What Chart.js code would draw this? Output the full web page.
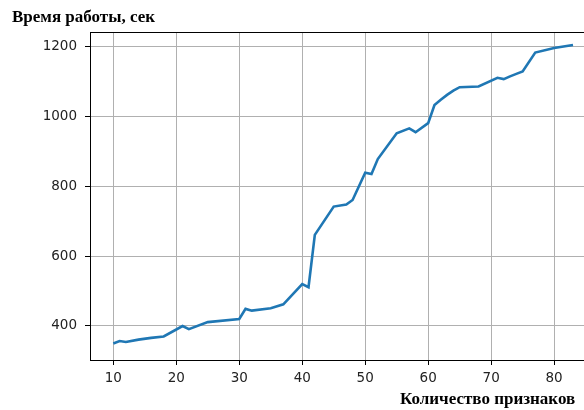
<!DOCTYPE html>
<html>
<head>
<meta charset="utf-8">
<script src="https://cdn.jsdelivr.net/npm/chart.js@4"></script>
<style>
  html, body { margin: 0; padding: 0; background: #fff; overflow: hidden; }
  #wrap { position: absolute; left: 0; top: 0; width: 596px; height: 410px; }
</style>
</head>
<body>
<div id="wrap"><canvas id="timeChart" width="596" height="410"></canvas></div>
<script>
const featureCounts = [10, 11, 12, 14, 16, 18, 21, 22, 25, 30, 31, 32, 35, 37, 40, 41, 42, 45, 47, 48, 50, 51, 52, 55, 57, 58, 60, 61, 62, 63, 64, 65, 68, 71, 72, 73, 74, 75, 77, 80, 83];
const runTimes = [350, 357, 354, 361, 366, 370, 400, 391, 411, 420, 449, 444, 451, 462, 520, 511, 661, 742, 748, 761, 839, 835, 878, 952, 966, 955, 981, 1033, 1048, 1062, 1074, 1084, 1086, 1111, 1107, 1115, 1122, 1129, 1183, 1196, 1205];
const xTicks = [10, 20, 30, 40, 50, 60, 70, 80];
const yTicks = [400, 600, 800, 1000, 1200];

const yTitle = "Время работы, сек";
const xTitle = "Количество признаков";

const frameAndTitles = {
  id: "frameAndTitles",
  beforeDraw(chart) {
    const ctx = chart.ctx;
    ctx.save();
    ctx.fillStyle = "#fff";
    ctx.fillRect(0, 0, chart.width, chart.height);
    ctx.restore();
  },
  afterDraw(chart) {
    const { ctx, chartArea } = chart;
    ctx.save();
    ctx.strokeStyle = "#000";
    ctx.lineWidth = 1;
    ctx.strokeRect(chartArea.left + 0.5, chartArea.top + 0.5, chartArea.right - chartArea.left, chartArea.bottom - chartArea.top);
    ctx.fillStyle = "#000";
    ctx.font = "bold 17px 'Liberation Serif'";
    ctx.textBaseline = "alphabetic";
    ctx.textAlign = "left";
    ctx.fillText(yTitle, 12, 22);
    ctx.fillText(xTitle, 400, 404);
    ctx.restore();
  },
};

const tickFont = { family: "DejaVu Sans", size: 13.5 };

new Chart("timeChart", {
  type: "line",
  data: {
    datasets: [
      {
        data: featureCounts.map((x, i) => ({ x, y: runTimes[i] })),
        borderColor: "#1f77b4",
        borderWidth: 2.6,
        pointRadius: 0,
        tension: 0,
        fill: false,
      },
    ],
  },
  options: {
    responsive: false,
    animation: false,
    layout: { padding: { top: 32, left: 0, right: 0, bottom: 0 } },
    plugins: { legend: { display: false }, tooltip: { enabled: false } },
    scales: {
      x: {
        type: "linear",
        min: 6.3,
        max: 86.65,
        afterBuildTicks: (scale) => { scale.ticks = xTicks.map((v) => ({ value: v })); },
        afterFit: (scale) => { scale.height = 50; },
        grid: { color: "#b0b0b0", lineWidth: 1, tickLength: 5, tickColor: "#000" },
        border: { color: "#000", width: 1 },
        ticks: { color: "#222", font: tickFont, padding: 5, maxRotation: 0, callback: (v) => String(v) },
      },
      y: {
        min: 302.6,
        max: 1242,
        afterBuildTicks: (scale) => { scale.ticks = yTicks.map((v) => ({ value: v })); },
        afterFit: (scale) => { scale.width = 90; },
        grid: { color: "#b0b0b0", lineWidth: 1, tickLength: 5, tickColor: "#000" },
        border: { color: "#000", width: 1 },
        ticks: { color: "#222", font: tickFont, padding: 8, callback: (v) => String(v) },
      },
    },
  },
  plugins: [frameAndTitles],
});
</script>
</body>
</html>
